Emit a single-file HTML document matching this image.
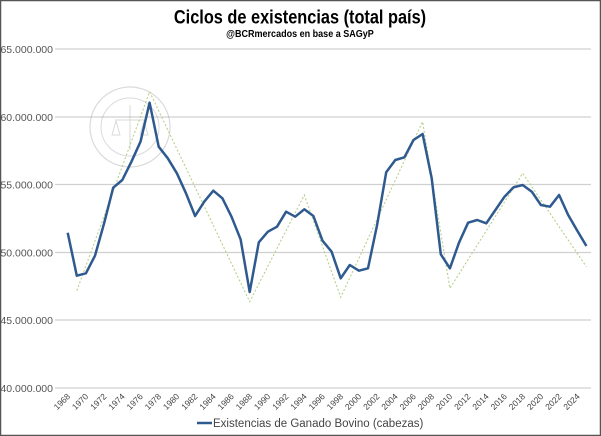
<!DOCTYPE html>
<html><head><meta charset="utf-8"><style>
html,body{margin:0;padding:0;background:#fff;}
svg{display:block;font-family:"Liberation Sans",sans-serif;}
</style></head><body>
<svg width="601" height="436" viewBox="0 0 601 436" xmlns="http://www.w3.org/2000/svg">
<rect x="0.5" y="0.5" width="600" height="435" fill="#fff" stroke="#555" stroke-width="1.5"/>
<text x="300" y="23.5" text-anchor="middle" font-size="19" font-weight="bold" fill="#000" transform="translate(300 0) scale(0.86 1) translate(-300 0)">Ciclos de existencias (total país)</text>
<text x="300" y="37" text-anchor="middle" font-size="10.5" font-weight="bold" fill="#000" transform="translate(300 0) scale(0.86 1) translate(-300 0)">@BCRmercados en base a SAGyP</text>
<g stroke="#d0d0d0" stroke-width="1.3">
<line x1="55" x2="591" y1="49" y2="49"/><line x1="55" x2="591" y1="117" y2="117"/>
<line x1="55" x2="591" y1="184.5" y2="184.5"/><line x1="55" x2="591" y1="252.5" y2="252.5"/>
<line x1="55" x2="591" y1="320" y2="320"/><line x1="55" x2="591" y1="388" y2="388"/>
</g>
<g font-size="10.5" fill="#555" text-anchor="end">
<text x="53" y="53">65.000.000</text><text x="53" y="121">60.000.000</text>
<text x="53" y="188.5">55.000.000</text><text x="53" y="256.5">50.000.000</text>
<text x="53" y="324">45.000.000</text><text x="53" y="392">40.000.000</text>
</g>
<g opacity="0.3" fill="none" stroke="#888">
<circle cx="130" cy="127" r="40" stroke-width="1.2"/><circle cx="130" cy="127" r="29" stroke-width="1"/>
<line x1="115" y1="120" x2="145" y2="120"/><line x1="130" y1="105" x2="130" y2="150"/>
<path d="M112 135 l4 -14 l4 14 z M140 135 l4 -14 l4 14 z"/>
</g>
<g font-size="8.5" fill="#444" text-anchor="end">
<text x="70.7" y="397" transform="rotate(-45 70.7 397)">1968</text>
<text x="88.9" y="397" transform="rotate(-45 88.9 397)">1970</text>
<text x="107.1" y="397" transform="rotate(-45 107.1 397)">1972</text>
<text x="125.3" y="397" transform="rotate(-45 125.3 397)">1974</text>
<text x="143.5" y="397" transform="rotate(-45 143.5 397)">1976</text>
<text x="161.7" y="397" transform="rotate(-45 161.7 397)">1978</text>
<text x="179.9" y="397" transform="rotate(-45 179.9 397)">1980</text>
<text x="198.1" y="397" transform="rotate(-45 198.1 397)">1982</text>
<text x="216.3" y="397" transform="rotate(-45 216.3 397)">1984</text>
<text x="234.5" y="397" transform="rotate(-45 234.5 397)">1986</text>
<text x="252.7" y="397" transform="rotate(-45 252.7 397)">1988</text>
<text x="270.9" y="397" transform="rotate(-45 270.9 397)">1990</text>
<text x="289.1" y="397" transform="rotate(-45 289.1 397)">1992</text>
<text x="307.3" y="397" transform="rotate(-45 307.3 397)">1994</text>
<text x="325.5" y="397" transform="rotate(-45 325.5 397)">1996</text>
<text x="343.7" y="397" transform="rotate(-45 343.7 397)">1998</text>
<text x="361.9" y="397" transform="rotate(-45 361.9 397)">2000</text>
<text x="380.1" y="397" transform="rotate(-45 380.1 397)">2002</text>
<text x="398.3" y="397" transform="rotate(-45 398.3 397)">2004</text>
<text x="416.5" y="397" transform="rotate(-45 416.5 397)">2006</text>
<text x="434.7" y="397" transform="rotate(-45 434.7 397)">2008</text>
<text x="452.9" y="397" transform="rotate(-45 452.9 397)">2010</text>
<text x="471.1" y="397" transform="rotate(-45 471.1 397)">2012</text>
<text x="489.3" y="397" transform="rotate(-45 489.3 397)">2014</text>
<text x="507.5" y="397" transform="rotate(-45 507.5 397)">2016</text>
<text x="525.7" y="397" transform="rotate(-45 525.7 397)">2018</text>
<text x="543.9" y="397" transform="rotate(-45 543.9 397)">2020</text>
<text x="562.1" y="397" transform="rotate(-45 562.1 397)">2022</text>
<text x="580.3" y="397" transform="rotate(-45 580.3 397)">2024</text>
</g>
<polyline fill="none" stroke="#b5d08a" stroke-width="1.1" stroke-dasharray="2,2" points="76.8,290.7 149.6,91.7 249.7,301.7 304.3,195 340.7,297.3 422.6,121.7 449.9,288.3 522.7,173.3 586.4,266.7"/>
<polyline fill="none" stroke="#2f5a8f" stroke-width="2.5" stroke-linejoin="round" points="67.7,232.7 76.8,275.7 85.9,273.3 95,255.7 104.1,223.3 113.2,187.7 122.3,180 131.4,161.7 140.5,141.7 149.6,102.7 158.7,146.7 167.8,158.3 176.9,173.3 186,193.3 195.1,216 204.2,201.7 213.3,190.7 222.4,198.3 231.5,216.7 240.6,239.3 249.7,292 258.8,242.3 267.9,231.7 277,226.7 286.1,211.7 295.2,216.7 304.3,209.3 313.4,216 322.5,240.7 331.6,251.7 340.7,278.3 349.8,265 358.9,270.7 368,268.3 377.1,225 386.2,172.3 395.3,160 404.4,157.3 413.5,140 422.6,134 431.7,178.3 440.8,254.3 449.9,268.3 459,242.7 468.1,222.7 477.2,220 486.3,223.3 495.4,210 504.5,196.7 513.6,187.3 522.7,185 531.8,191.7 540.9,205 550,206.7 559.1,195 568.2,215 577.3,230.7 586.4,246"/>
<line x1="197" y1="423" x2="212" y2="423" stroke="#2f5a8f" stroke-width="2.5"/>
<text x="213" y="427" font-size="11.5" fill="#444">Existencias de Ganado Bovino (cabezas)</text>
</svg>
</body></html>
